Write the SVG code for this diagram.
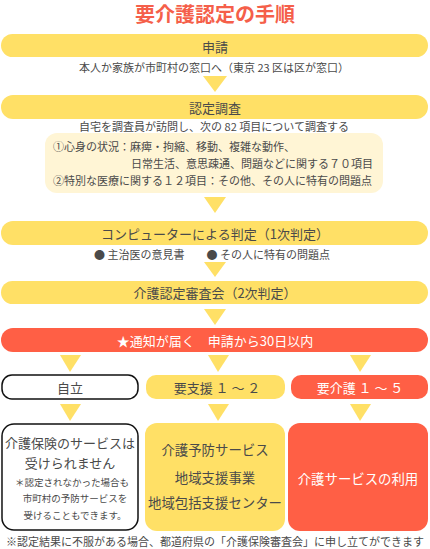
<svg xmlns="http://www.w3.org/2000/svg" width="430" height="549" viewBox="0 0 430 549">
<style>
text{font-family:"Noto Sans CJK JP","Noto Sans",sans-serif;text-anchor:middle;dominant-baseline:central;fill:#4a4a4a}
.y{fill:#FFE066}
.r{fill:#FF5F45}
.tri{fill:#FFE066}
.bar{font-size:13px}
.sm{font-size:11px}
.w{fill:#fff}
.big{font-size:13.4px}
.tiny{font-size:9.5px}
</style>
<text x="215" y="13" style="font-size:20px;font-weight:bold;fill:#F55F4A">要介護認定の手順</text>
<g id="connectors">
<polygon class="tri" points="203,76 227,76 215,92"/>
<polygon class="tri" points="204,197 226,197 215,213"/>
<polygon class="tri" points="204,262 226,262 215,277"/>
<polygon class="tri" points="204,309 226,309 215,325"/>
<polygon class="tri" points="60,355 81,355 70,372"/>
<polygon class="tri" points="208,355 229,355 218,372"/>
<polygon class="tri" points="350,355 371,355 360,372"/>
<polygon class="tri" points="60,404 81,404 70,421"/>
<polygon class="tri" points="208,404 229,404 218,421"/>
<polygon class="tri" points="350,404 371,404 360,421"/>
</g>
<g id="n1"><rect class="y" x="1" y="34" width="427" height="23" rx="11.5"/><text class="bar" x="215" y="46">申請</text>
<text class="sm" x="214" y="67">本人か家族が市町村の窓口へ（東京 23 区は区が窓口）</text></g>
<g id="n2"><rect class="y" x="1" y="95" width="427" height="24" rx="12"/><text class="bar" x="215" y="107">認定調査</text>
<text class="sm" x="214" y="126">自宅を調査員が訪問し、次の 82 項目について調査する</text></g>
<g id="n2b"><rect x="45" y="133" width="338" height="60" rx="12" fill="#FFF5D5"/>
<text class="sm" x="53" y="146" style="text-anchor:start">①心身の状況：麻痺・拘縮、移動、複雑な動作、</text>
<text class="sm" x="373" y="163" style="text-anchor:end">日常生活、意思疎通、問題などに関する７０項目</text>
<text class="sm" x="53" y="180" style="text-anchor:start">②特別な医療に関する１２項目：その他、その人に特有の問題点</text></g>
<g id="n3"><rect class="y" x="1" y="221" width="427" height="24" rx="12"/><text class="bar" x="215" y="233">コンピューターによる判定（1次判定）</text>
<text class="sm" x="212" y="254">● 主治医の意見書　　● その人に特有の問題点</text></g>
<g id="n4"><rect class="y" x="1" y="281" width="427" height="23" rx="11.5"/><text class="bar" x="215" y="292">介護認定審査会（2次判定）</text></g>
<g id="n5"><rect class="r" x="1" y="328" width="427" height="24" rx="12"/><text class="bar w" x="215" y="340">★通知が届く　申請から30日以内</text></g>
<g id="n6"><rect x="2" y="375" width="136" height="24" rx="10" fill="#fff" stroke="#111" stroke-width="1.5"/><text class="bar" x="70" y="387">自立</text></g>
<g id="n7"><rect class="y" x="146" y="375" width="139" height="24" rx="10"/><text class="bar" x="217" y="387">要支援 １ ～ ２</text></g>
<g id="n8"><rect class="r" x="291" y="375" width="137" height="24" rx="10"/><text class="bar w" x="360" y="387">要介護 １ ～ ５</text></g>
<g id="n9"><rect x="2" y="424" width="136" height="106" rx="12" fill="#fff" stroke="#111" stroke-width="1.5"/>
<text x="70" y="442" style="font-size:13px">介護保険のサービスは</text>
<text x="70" y="462" style="font-size:13px">受けられません</text>
<text class="tiny" x="72" y="482">＊認定されなかった場合も</text>
<text class="tiny" x="75" y="498">市町村の予防サービスを</text>
<text class="tiny" x="75" y="515">受けることもできます。</text></g>
<g id="n10"><rect class="y" x="145" y="423" width="140" height="108" rx="12"/>
<text class="big" x="215" y="449">介護予防サービス</text>
<text class="big" x="215" y="477">地域支援事業</text>
<text class="big" x="215" y="502">地域包括支援センター</text></g>
<g id="n11"><rect class="r" x="288" y="423" width="140" height="108" rx="12"/>
<text class="big w" x="358" y="478">介護サービスの利用</text></g>
<text class="sm" x="215" y="541">※認定結果に不服がある場合、都道府県の「介護保険審査会」に申し立てができます</text>
</svg>
